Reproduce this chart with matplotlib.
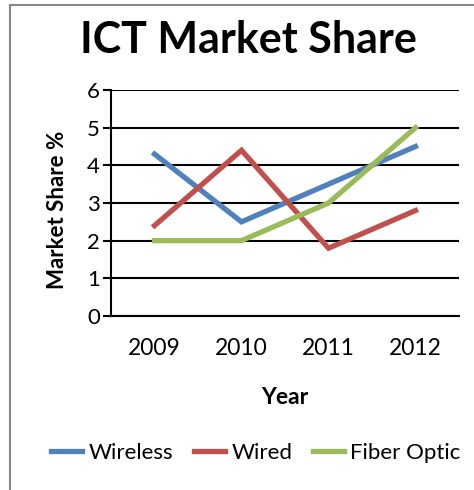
import matplotlib.pyplot as plt
from matplotlib.lines import Line2D

plt.rcParams['font.family'] = ['Lato', 'DejaVu Sans']

years = ['2009', '2010', '2011', '2012']
wireless = [4.3, 2.5, 3.5, 4.5]
wired = [2.4, 4.4, 1.8, 2.8]
fiber = [2.0, 2.0, 3.0, 5.0]

W, H = 474, 490
fig = plt.figure(figsize=(W / 100, H / 100), dpi=100)
ax = fig.add_axes([111 / W, 1 - 316 / H, (459 - 111) / W, (316 - 90) / H])

x = range(len(years))
ax.plot(x, wireless, color='#4F81BD', lw=3.8, label='Wireless', solid_joinstyle='miter')
ax.plot(x, wired, color='#C0504D', lw=3.8, label='Wired', solid_joinstyle='miter')
ax.plot(x, fiber, color='#9BBB59', lw=3.8, label='Fiber Optic', solid_joinstyle='miter')

ax.set_xlim(-0.5, 3.5)
ax.set_ylim(0, 6)
ax.set_yticks(range(7))
ax.set_xticks(list(x))
ax.set_xticklabels(years)
ax.yaxis.grid(True, color='black', lw=1.5)
ax.set_axisbelow(True)
for s in ['top', 'right']:
    ax.spines[s].set_visible(False)
ax.spines['left'].set_linewidth(1.5)
ax.spines['bottom'].set_linewidth(1.5)
ax.tick_params(axis='y', length=6, width=1.5, labelsize=16, pad=2)
ax.tick_params(axis='x', length=0, labelsize=16.5, pad=16)

ax.set_ylabel('Market Share %', fontsize=16, fontweight='bold')
ax.yaxis.set_label_coords(-0.125, 0.47)
ax.set_xlabel('Year', fontsize=16.5, fontweight='bold', labelpad=20)

fig.text(248 / W, 1 - 40 / H, 'ICT Market Share', ha='center', va='center',
         fontsize=31, fontweight='bold')

fig.legend(loc='center', bbox_to_anchor=(256 / W, 1 - 453 / H), ncol=3, frameon=False,
           fontsize=16, handlelength=1.4, handletextpad=0.3, columnspacing=0.9)

# chart frame (top and left edges visible)
fig.add_artist(Line2D([10 / W, 1], [1 - 5 / H, 1 - 5 / H], color='#888888', lw=1.5))
fig.add_artist(Line2D([10 / W, 10 / W], [0, 1 - 5 / H], color='#888888', lw=1.5))

fig.savefig('out.png', dpi=100)
